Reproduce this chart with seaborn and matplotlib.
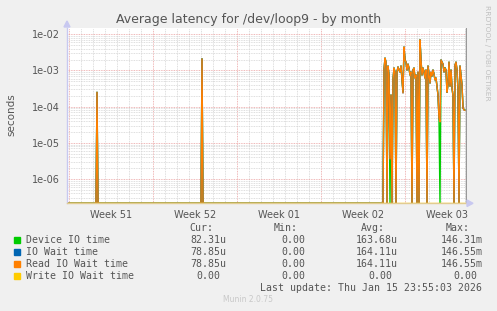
import numpy as np
import pandas as pd
import matplotlib
matplotlib.use("Agg")
import matplotlib.pyplot as plt
import seaborn as sns
from matplotlib.ticker import FixedLocator, FuncFormatter, LogLocator, NullFormatter
from matplotlib.patches import Rectangle, Polygon

# ---------------- data ----------------
series_names = ["Device IO time", "IO Wait time", "Read IO Wait time", "Write IO Wait time"]
series_colors = ["#00cc00", "#0066b3", "#ff8000", "#ffcc00"]

week_labels = ["Week 51", "Week 52", "Week 01", "Week 02", "Week 03"]
week_start_hours = [0, 168, 336, 504, 672]          # hours since start of Week 51

# 2-hour averaged samples (hours since start of Week 51)
sample_hours = np.arange(-4, 794, 2)

spike_hours = [56, 266]
spike_read = [2.5e-4, 2.1e-3]
spike_device = [2.5e-4, 2.1e-3]

block_start_hour = 628
block_read = [
    0, 1.03e-3, 2.2e-3, 1.7e-3, 0, 1.33e-3, 7.5e-4, 3.6e-6, 2.1e-4, 0,
    5.5e-4, 1.17e-3, 9.1e-4, 0, 9.1e-4, 1.25e-3, 1.03e-3, 9.1e-4, 1.33e-3, 5.5e-4,
    2.4e-4, 4.45e-3, 1.95e-3, 1.7e-3, 1.03e-3, 1.5e-3, 1.17e-3, 7.5e-4, 9.1e-4, 0,
    1.03e-3, 1.17e-3, 6.2e-4, 7.5e-4, 0, 9.1e-4, 0, 7.0e-3, 1.95e-3, 7.5e-4,
    1.17e-3, 9.1e-4, 6.2e-4, 1.03e-3, 0, 1.33e-3, 7.5e-4, 4.5e-4, 9.1e-4, 7.0e-4,
    1.03e-3, 8.0e-4, 5.5e-4, 6.2e-4, 3.7e-4, 2.1e-4, 4.9e-5, 3.8e-5, 1.95e-3, 1.7e-3,
    1.5e-3, 9.1e-4, 1.17e-3, 1.03e-3, 2.5e-4, 4.2e-4, 1.7e-3, 3.7e-4, 1.03e-3, 3.3e-4,
    2.0e-4, 0, 1.4e-3, 1.7e-3, 1.03e-3, 2.9e-4, 0, 1.33e-3, 7.5e-4, 4.0e-4,
    9.2e-5, 8.1e-5, 7.9e-5,
]
block_device = [
    0, 1.03e-3, 2.2e-3, 1.7e-3, 0, 1.33e-3, 7.5e-4, 0, 2.1e-4, 0,
    5.5e-4, 1.17e-3, 9.1e-4, 0, 9.1e-4, 1.25e-3, 1.03e-3, 9.1e-4, 1.33e-3, 5.5e-4,
    2.6e-4, 4.45e-3, 1.95e-3, 1.7e-3, 1.03e-3, 1.5e-3, 1.17e-3, 7.5e-4, 9.1e-4, 0,
    1.03e-3, 1.17e-3, 6.2e-4, 7.5e-4, 0, 8.8e-4, 0, 7.0e-3, 1.95e-3, 7.5e-4,
    1.17e-3, 9.1e-4, 6.2e-4, 1.03e-3, 0, 1.33e-3, 7.5e-4, 4.5e-4, 8.6e-4, 7.0e-4,
    1.03e-3, 8.0e-4, 5.5e-4, 6.2e-4, 3.7e-4, 2.1e-4, 4.9e-5, 0, 1.95e-3, 1.7e-3,
    1.5e-3, 9.1e-4, 1.2e-3, 1.03e-3, 2.5e-4, 4.2e-4, 1.7e-3, 3.7e-4, 1.03e-3, 3.3e-4,
    2.0e-4, 0, 1.4e-3, 1.7e-3, 1.03e-3, 2.9e-4, 0, 1.33e-3, 7.5e-4, 4.0e-4,
    9.2e-5, 8.4e-5, 8.23e-5,
]

cur_vals = ["82.31u", "78.85u", "78.85u", "0.00"]
min_vals = ["0.00", "0.00", "0.00", "0.00"]
avg_vals = ["163.68u", "164.11u", "164.11u", "0.00"]
max_vals = ["146.31m", "146.55m", "146.55m", "0.00"]

title = "Average latency for /dev/loop9 - by month"
last_update = "Last update: Thu Jan 15 23:55:03 2026"
version = "Munin 2.0.75"

# ---------------- build series ----------------
def build(spikes, block):
    v = np.zeros(len(sample_hours))
    for h, val in zip(spike_hours, spikes):
        v[sample_hours == h] = val
    idx0 = int(np.where(sample_hours == block_start_hour)[0][0])
    v[idx0:idx0 + len(block)] = block
    return v

device = build(spike_device, block_device)
read = build(spike_read, block_read)
iowait = read.copy()
write = np.zeros(len(sample_hours))

Y_BOTTOM, Y_TOP = 2.14e-7, 1.54e-2
X_LEFT, X_RIGHT = -4, 796

frames = []
for name, vals in zip(series_names, [device, iowait, read, write]):
    frames.append(pd.DataFrame({"hour": sample_hours, "value": vals, "series": name}))
df = pd.concat(frames, ignore_index=True)
df["plot_value"] = df["value"].clip(lower=Y_BOTTOM)

# ---------------- figure ----------------
W, H = 497, 311
def fx(x): return x / W
def fy(y): return 1 - y / H

sns.set_style("white")
plt.rcParams["font.family"] = ["DejaVu Sans"]
fig = plt.figure(figsize=(W / 100, H / 100), dpi=100)
fig.patch.set_facecolor("#f0f0f0")
ax = fig.add_axes([fx(67), fy(203.3), (467 - 67) / W, (203.3 - 27.5) / H])
ax.set_facecolor("white")

sns.lineplot(data=df, x="hour", y="plot_value", hue="series", hue_order=series_names,
             palette=series_colors, linewidth=1.0, estimator=None, sort=False,
             legend=False, ax=ax)
ax.set_yscale("log")
ax.set_xlim(X_LEFT, X_RIGHT)
ax.set_ylim(Y_BOTTOM, Y_TOP)
ax.set_xlabel("")
ax.set_ylabel("")

# "now" line at right end of data
ax.axvline(793.4, color="#999999", linewidth=1.0)

# grids
ax.xaxis.set_major_locator(FixedLocator(week_start_hours))
ax.xaxis.set_minor_locator(FixedLocator(np.arange(0, 800, 24)))
ax.xaxis.set_major_formatter(NullFormatter())
ax.yaxis.set_major_locator(LogLocator(base=10, numticks=20))
ax.yaxis.set_minor_locator(LogLocator(base=10, subs=np.arange(2, 10), numticks=50))
ax.yaxis.set_minor_formatter(NullFormatter())
ax.yaxis.set_major_formatter(FuncFormatter(lambda v, p: f"{v:.0e}"))

ax.grid(which="minor", color="#d4d4d4", linestyle=(0, (1, 1)), linewidth=0.6)
ax.grid(which="major", color="#eaa0a0", linestyle=(0, (1, 1)), linewidth=0.6)
ax.set_axisbelow(True)

ax.tick_params(axis="both", which="both", direction="out", length=2, width=0.6,
               labelsize=7, labelcolor="#555555", colors="#555555")
ax.tick_params(axis="x", which="major", color="#eaa0a0", length=3)
ax.tick_params(axis="x", which="minor", color="#d4d4d4", length=2)
ax.tick_params(axis="y", which="major", color="#eaa0a0", pad=3)
ax.tick_params(axis="y", which="minor", length=0)
for t in ax.get_yticklabels():
    t.set_color("#555555")

for s in ["top", "right"]:
    ax.spines[s].set_visible(False)
ax.spines["left"].set_color("#c8c8f0")
ax.spines["left"].set_linewidth(1.0)
ax.spines["bottom"].set_color("#e2cc90")
ax.spines["bottom"].set_linewidth(1.0)

# week labels centred on each week
for lbl, h in zip(week_labels, week_start_hours):
    ax.text(h + 84, -0.04, lbl, transform=ax.get_xaxis_transform(), ha="center",
            va="top", fontsize=7, color="#555555")

# axis arrows
fig.patches.append(Polygon([[fx(64), fy(27)], [fx(70), fy(27)], [fx(67), fy(21)]],
                           closed=True, color="#c8c8f0", transform=fig.transFigure))
fig.patches.append(Polygon([[fx(467), fy(200)], [fx(467), fy(206.5)], [fx(473), fy(203.3)]],
                           closed=True, color="#c8c8f0", transform=fig.transFigure))

# title and side texts
fig.text(fx(249), fy(19), title, ha="center", va="center", fontsize=9, color="#555555")
fig.text(fx(11), fy(115), "seconds", ha="center", va="center", rotation=90,
         fontsize=7.5, color="#555555")
fig.text(fx(487.5), fy(53), "RRDTOOL / TOBI OETIKER", ha="center", va="center",
         rotation=-90, fontsize=5.4, color="#c0c0c0")

# legend
mono = "DejaVu Sans Mono"
fs = 7.1
cw = 5.95
col_end = {"cur": 226, "min": 311, "avg": 398, "max": 483}
for key, hdr in zip(["cur", "min", "avg", "max"], ["Cur:", "Min:", "Avg:", "Max:"]):
    fig.text(fx(col_end[key] - 13), fy(228), hdr, ha="right", va="center",
             family=mono, fontsize=fs, color="#555555")

row_y = [240, 252, 264, 276]
for i, name in enumerate(series_names):
    y = row_y[i]
    fig.patches.append(Rectangle((fx(14), fy(y + 3)), 6 / W, 6 / H,
                                 color=series_colors[i], transform=fig.transFigure))
    fig.text(fx(26), fy(y), name, ha="left", va="center", family=mono,
             fontsize=fs, color="#555555")
    for key, vals in zip(["cur", "min", "avg", "max"], [cur_vals, min_vals, avg_vals, max_vals]):
        s = vals[i]
        xr = col_end[key] - (0 if s[-1].isalpha() else cw)
        fig.text(fx(xr), fy(y), s, ha="right", va="center", family=mono,
                 fontsize=fs, color="#555555")

fig.text(fx(482.5), fy(288), last_update, ha="right", va="center", family=mono,
         fontsize=fs, color="#555555")
fig.text(fx(248), fy(300), version, ha="center", va="center", fontsize=5.5,
         color="#c8c8c8")

fig.savefig("out.png", dpi=100, facecolor=fig.get_facecolor())
